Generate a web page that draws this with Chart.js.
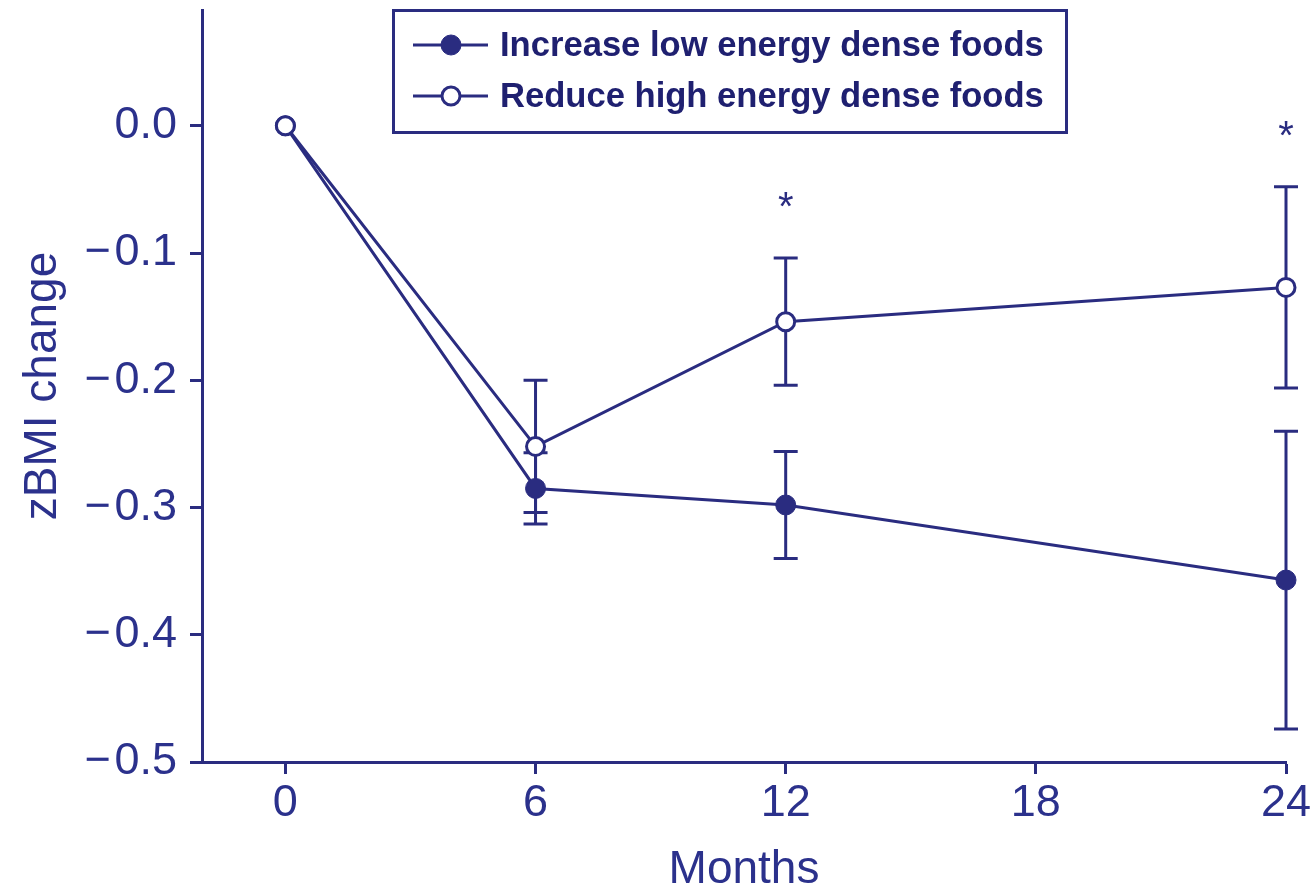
<!DOCTYPE html>
<html>
<head>
<meta charset="utf-8">
<script src="https://cdn.jsdelivr.net/npm/chart.js@4/dist/chart.umd.min.js"></script>
<style>
  html, body { margin: 0; padding: 0; background: #ffffff; }
  #wrap { width: 1312px; height: 889px; }
</style>
</head>
<body>
<div id="wrap"><canvas id="zbmiChart" width="1312" height="889"></canvas></div>
<script>
// values
const months = [0, 6, 12, 24];
const increaseLow = [0, -0.285, -0.298, -0.357];
const increaseLowErr = [0, 0.028, 0.042, 0.117];
const reduceHigh = [0, -0.252, -0.154, -0.127];
const reduceHighErr = [0, 0.052, 0.050, 0.079];

const xTicks = [0, 6, 12, 18, 24];
const yTicks = [0, -0.1, -0.2, -0.3, -0.4, -0.5];

// significance marks (month, value where the * sits)
const starMonths = [12, 24];
const starValues = [-0.056, 0.0];

const seriesLabels = ["Increase low energy dense foods", "Reduce high energy dense foods"];

const NAVY = "#2a2c80";
const TEXT = "#2b318c";
const FONT = "'Liberation Sans', Arial, Helvetica, sans-serif";

// error bars + stars, drawn under the markers
const errorBars = {
    id: "errorBars",
    beforeDatasetsDraw(chart) {
        const ctx = chart.ctx;
        const x = chart.scales.x;
        const y = chart.scales.y;
        const errs = [increaseLowErr, reduceHighErr];

        ctx.save();
        ctx.strokeStyle = NAVY;
        ctx.lineWidth = 3;

        chart.data.datasets.forEach((ds, d) => {
            ds.data.forEach((pt, i) => {
                const e = errs[d][i];
                if (!e) return;
                const px = x.getPixelForValue(pt.x);
                const top = y.getPixelForValue(pt.y + e);
                const bot = y.getPixelForValue(pt.y - e);
                ctx.beginPath();
                ctx.moveTo(px, top);
                ctx.lineTo(px, bot);
                ctx.moveTo(px - 12, top);
                ctx.lineTo(px + 12, top);
                ctx.moveTo(px - 12, bot);
                ctx.lineTo(px + 12, bot);
                ctx.stroke();
            });
        });

        ctx.fillStyle = NAVY;
        ctx.font = "40px " + FONT;
        ctx.textAlign = "center";
        ctx.textBaseline = "alphabetic";
        for (let i = 0; i < starMonths.length; i++) {
            const px = x.getPixelForValue(starMonths[i]);
            const py = y.getPixelForValue(starValues[i]);
            ctx.fillText("*", px, py + 23);
        }
        ctx.restore();
    }
};

// boxed legend in the top of the plot
const boxLegend = {
    id: "boxLegend",
    afterDraw(chart) {
        const ctx = chart.ctx;
        ctx.save();
        ctx.strokeStyle = NAVY;
        ctx.lineWidth = 3;
        ctx.strokeRect(393.5, 10.5, 673, 122);

        const rows = [45, 96];
        chart.data.datasets.forEach((ds, i) => {
            const ry = rows[i];
            ctx.strokeStyle = NAVY;
            ctx.lineWidth = 3;
            ctx.beginPath();
            ctx.moveTo(413, ry);
            ctx.lineTo(488, ry);
            ctx.stroke();

            ctx.beginPath();
            ctx.arc(451, ry, ds.pointRadius, 0, Math.PI * 2);
            ctx.fillStyle = ds.pointBackgroundColor;
            ctx.fill();
            ctx.lineWidth = ds.pointBorderWidth;
            ctx.stroke();

            ctx.fillStyle = "#1f2070";
            ctx.font = "bold 34.6px " + FONT;
            ctx.textAlign = "left";
            ctx.textBaseline = "middle";
            ctx.fillText(ds.label, 500, ry + 1);
        });
        ctx.restore();
    }
};

function toPoints(vals) {
    return months.map((m, i) => ({ x: m, y: vals[i] }));
}

new Chart(document.getElementById("zbmiChart"), {
    type: "line",
    data: {
        datasets: [
            {
                label: seriesLabels[0],
                data: toPoints(increaseLow),
                borderColor: NAVY,
                borderWidth: 3,
                pointRadius: 10,
                pointBackgroundColor: NAVY,
                pointBorderColor: NAVY,
                pointBorderWidth: 1,
                tension: 0,
                fill: false,
                clip: false,
                order: 1
            },
            {
                label: seriesLabels[1],
                data: toPoints(reduceHigh),
                borderColor: NAVY,
                borderWidth: 3,
                pointRadius: 9,
                pointBackgroundColor: "#ffffff",
                pointBorderColor: NAVY,
                pointBorderWidth: 3,
                tension: 0,
                fill: false,
                clip: false,
                order: 0
            }
        ]
    },
    options: {
        responsive: false,
        animation: false,
        layout: {
            autoPadding: false,
            padding: { top: 10, right: 26, left: 0, bottom: 0 }
        },
        plugins: {
            legend: { display: false },
            tooltip: { enabled: false }
        },
        scales: {
            x: {
                type: "linear",
                min: -2,
                max: 24,
                afterFit(scale) {
                    scale.height = 127;
                    scale.paddingLeft = 0;
                    scale.paddingRight = 0;
                },
                afterBuildTicks(scale) { scale.ticks = xTicks.map(v => ({ value: v })); },
                border: { color: NAVY, width: 3 },
                grid: {
                    drawOnChartArea: false,
                    drawTicks: true,
                    tickLength: 12,
                    tickWidth: 3,
                    tickColor: NAVY
                },
                ticks: {
                    color: TEXT,
                    padding: 3,
                    font: { family: FONT, size: 45 },
                    maxRotation: 0,
                    callback: v => String(v)
                },
                title: {
                    display: true,
                    text: "Months",
                    color: TEXT,
                    padding: 0,
                    font: { family: FONT, size: 46, lineHeight: 0.8 }
                }
            },
            y: {
                min: -0.5,
                max: 0.091,
                afterFit(scale) {
                    scale.width = 202;
                    scale.paddingTop = 0;
                    scale.paddingBottom = 0;
                },
                afterBuildTicks(scale) { scale.ticks = yTicks.map(v => ({ value: v })); },
                border: { color: NAVY, width: 3 },
                grid: {
                    drawOnChartArea: false,
                    drawTicks: true,
                    tickLength: 12,
                    tickWidth: 3,
                    tickColor: NAVY
                },
                ticks: {
                    color: TEXT,
                    padding: 13,
                    font: { family: FONT, size: 45 },
                    callback: v => (v < -1e-9 ? "\u2212\u200a" + Math.abs(v).toFixed(1) : "0.0")
                },
                title: {
                    display: true,
                    text: "zBMI change",
                    color: TEXT,
                    padding: { top: 16, bottom: 0 },
                    font: { family: FONT, size: 46 }
                }
            }
        }
    },
    plugins: [errorBars, boxLegend]
});
</script>
</body>
</html>
